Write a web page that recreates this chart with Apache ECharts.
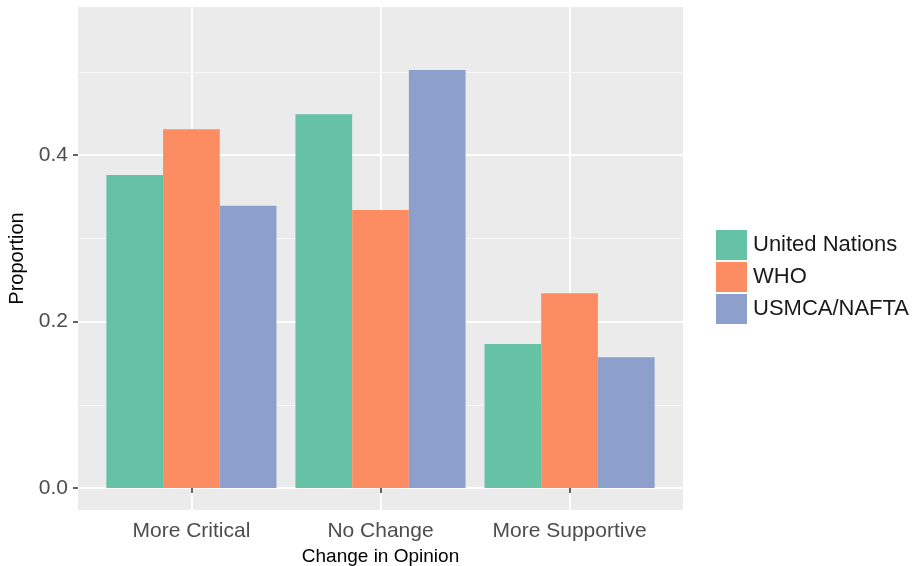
<!DOCTYPE html>
<html>
<head>
<meta charset="utf-8">
<script src="https://cdn.jsdelivr.net/npm/echarts@6/dist/echarts.min.js"></script>
<style>html,body{margin:0;padding:0;background:#fff;}#c{width:916px;height:566px;}</style>
</head>
<body>
<div id="c"></div>
<script>
const categories = ['More Critical', 'No Change', 'More Supportive'];
const seriesNames = ['United Nations', 'WHO', 'USMCA/NAFTA'];
const unitedNations = [0.376, 0.449, 0.173];
const who = [0.431, 0.334, 0.234];
const usmca = [0.339, 0.502, 0.157];
const yTicks = [0, 0.2, 0.4];
const yMinorTicks = [0.1, 0.3, 0.5];
const colors = ['#66C2A5', '#FC8D62', '#8DA0CB'];

const catPos = categories.map((c, i) => i + 1);
const allValues = [unitedNations, who, usmca];

const chart = echarts.init(document.getElementById('c'), null, {renderer: 'canvas'});
const font = 'Liberation Sans, Arial, sans-serif';
chart.setOption({
  animation: false,
  backgroundColor: '#FFFFFF',
  color: colors,
  grid: {left: 78, top: 7, width: 605, height: 503, show: true, backgroundColor: '#EBEBEB', borderWidth: 0,
    containLabel: false, outerBoundsMode: 'none'},
  legend: {
    orient: 'vertical', left: 711, top: 225,
    itemWidth: 31, itemHeight: 30, itemGap: 2,
    icon: 'rect',
    data: seriesNames,
    textStyle: {fontFamily: font, fontSize: 22, color: '#1A1A1A', padding: [0, 0, 0, 1]}
  },
  xAxis: [{
    type: 'value', min: 0.4, max: 3.6,
    axisLine: {show: false},
    axisTick: {show: true, customValues: catPos, length: 5, lineStyle: {color: '#333333', width: 1.5}},
    axisLabel: {customValues: catPos, margin: 11, fontFamily: font, fontSize: 21, color: '#4D4D4D',
      formatter: v => categories[Math.round(v) - 1] || ''},
    splitLine: {show: true, lineStyle: {color: '#FFFFFF', width: 2}},
    name: 'Change in Opinion', nameLocation: 'middle', nameGap: 35,
    nameTextStyle: {fontFamily: font, fontSize: 19, color: '#000000'}
  }],
  yAxis: [{
    type: 'value', min: -0.0264, max: 0.5778,
    axisLine: {show: false},
    axisTick: {show: true, customValues: yTicks, length: 5, lineStyle: {color: '#333333', width: 1.5}},
    axisLabel: {customValues: yTicks, margin: 10, fontFamily: font, fontSize: 21, color: '#4D4D4D',
      formatter: v => v.toFixed(1)},
    splitLine: {show: true, lineStyle: {color: '#FFFFFF', width: 2}},
    name: 'Proportion', nameLocation: 'middle', nameGap: 49, nameRotate: 90,
    nameTextStyle: {fontFamily: font, fontSize: 20, color: '#000000'}
  }, {
    type: 'value', min: -0.0264, max: 0.5778, position: 'left',
    axisLine: {show: false},
    axisTick: {show: false, customValues: yMinorTicks},
    axisLabel: {show: false, customValues: yMinorTicks},
    splitLine: {show: true, lineStyle: {color: '#F7F7F7', width: 1}}
  }],
  series: seriesNames.map((name, si) => ({
    name: name, type: 'bar', xAxisIndex: 0, yAxisIndex: 0,
    barWidth: 56.7, barGap: '0%',
    data: catPos.map((x, i) => [x, allValues[si][i]]),
    itemStyle: {color: colors[si]}
  }))
});
</script>
</body>
</html>
